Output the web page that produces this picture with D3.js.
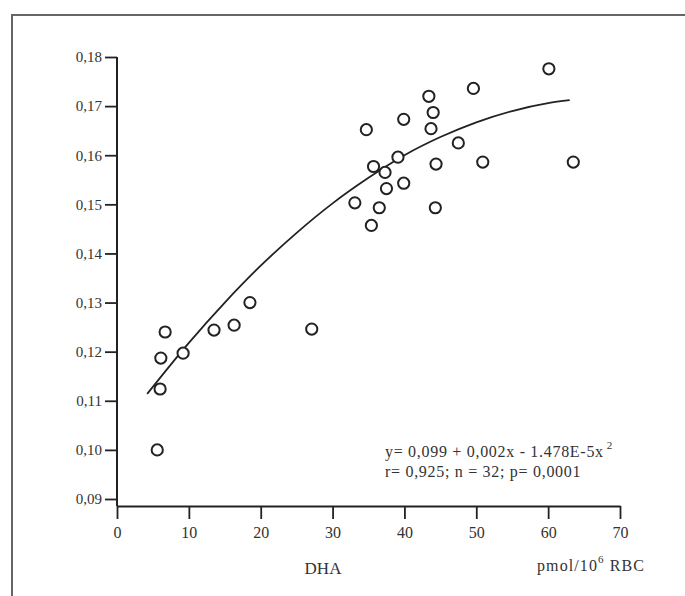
<!DOCTYPE html>
<html>
<head>
<meta charset="utf-8">
<script src="https://cdn.jsdelivr.net/npm/d3@7"></script>
<style>
  body { margin: 0; background: #fff; }
  svg { display: block; font-family: "Liberation Serif", "DejaVu Serif", serif; }
</style>
</head>
<body>
<svg id="chart" width="685" height="596"></svg>
<script>
// DHA (pmol/10^6 RBC) vs. ratio
const dhaX = [5.6, 6.0, 6.1, 6.7, 9.2, 13.5, 16.3, 18.5, 27.1,
  33.1, 34.7, 35.4, 35.7, 36.5, 37.3, 37.5, 39.1, 39.9, 39.9,
  43.4, 43.7, 44.0, 44.3, 44.4, 47.5, 49.6, 50.9, 60.1, 63.5];
const ratioY = [0.100, 0.1124, 0.1187, 0.124, 0.1197, 0.1244, 0.1254, 0.130, 0.1246,
  0.1503, 0.1652, 0.1457, 0.1577, 0.1493, 0.1565, 0.1532, 0.1596, 0.1673, 0.1543,
  0.172, 0.1654, 0.1687, 0.1493, 0.1582, 0.1625, 0.1736, 0.1586, 0.1776, 0.1586];

// fitted curve
const curveX = [4.2, 10, 15, 20, 25, 30, 35, 40, 45, 50, 55, 60, 63];
const curveY = [0.1114, 0.1218, 0.130, 0.1375, 0.1442, 0.1502, 0.1554, 0.160, 0.1637, 0.1667, 0.169, 0.1706, 0.1712];

const xTicks = [0, 10, 20, 30, 40, 50, 60, 70];
const yTicks = [0.09, 0.10, 0.11, 0.12, 0.13, 0.14, 0.15, 0.16, 0.17, 0.18];

const svg = d3.select("#chart");
const serif = '"Liberation Serif", "DejaVu Serif", serif';
const ink = "#222";
const textInk = "#333";

// scanned page frame
svg.append("path")
  .attr("d", "M12,596 V15 H685")
  .attr("fill", "none")
  .attr("stroke", "#666")
  .attr("stroke-width", 2);

// plot area
const plotLeft = 117, plotRight = 620, plotTop = 57, plotBottom = 499, axisY = 506;

const x = d3.scaleLinear().domain([0, 70]).range([plotLeft, plotRight]);
const y = d3.scaleLinear().domain([0.09, 0.18]).range([plotBottom, plotTop]);

// y axis
const yAxis = svg.append("g")
  .attr("transform", `translate(${plotLeft},0)`)
  .call(d3.axisLeft(y).tickValues(yTicks).tickSize(12).tickSizeOuter(0)
    .tickFormat(d => d3.format(".2f")(d).replace(".", ",")))
  .attr("font-family", serif)
  .attr("font-size", 15);
yAxis.select(".domain").remove();
yAxis.selectAll("line").attr("stroke", ink).attr("stroke-width", 1.8);
yAxis.selectAll("text")
  .attr("fill", textInk)
  .attr("x", -15);

svg.append("line")
  .attr("x1", plotLeft).attr("x2", plotLeft)
  .attr("y1", y(0.18)).attr("y2", axisY)
  .attr("stroke", ink).attr("stroke-width", 2);

// x axis
const xAxis = svg.append("g")
  .attr("transform", `translate(0,${axisY})`)
  .call(d3.axisBottom(x).tickValues(xTicks).tickSize(13).tickSizeOuter(0))
  .attr("font-family", serif)
  .attr("font-size", 16);
xAxis.select(".domain").attr("stroke", ink).attr("stroke-width", 2);
xAxis.selectAll("line").attr("stroke", ink).attr("stroke-width", 1.8);
xAxis.selectAll("text")
  .attr("fill", textInk)
  .attr("y", 21);

// axis titles
svg.append("text")
  .attr("x", 323).attr("y", 574)
  .attr("text-anchor", "middle")
  .attr("font-size", 17)
  .attr("fill", textInk)
  .text("DHA");

const unit = svg.append("text")
  .attr("x", 537).attr("y", 571)
  .attr("font-size", 16)
  .attr("letter-spacing", 1.1)
  .attr("fill", textInk);
unit.append("tspan").text("pmol/10");
unit.append("tspan").attr("font-size", 11).attr("dy", -8).text("6");
unit.append("tspan").attr("dy", 8).text(" RBC");

// regression curve
const curvePts = curveX.map((d, i) => [d, curveY[i]]);
svg.append("path")
  .datum(curvePts)
  .attr("fill", "none")
  .attr("stroke", ink)
  .attr("stroke-width", 1.8)
  .attr("d", d3.line().x(d => x(d[0])).y(d => y(d[1])).curve(d3.curveMonotoneX));

// data points
svg.selectAll(".dot")
  .data(dhaX.map((d, i) => [d, ratioY[i]]))
  .enter()
  .append("circle")
  .attr("class", "dot")
  .attr("cx", d => x(d[0]))
  .attr("cy", d => y(d[1]))
  .attr("r", 5.6)
  .attr("fill", "#fff")
  .attr("stroke", ink)
  .attr("stroke-width", 2);

// equation
const eq = svg.append("text")
  .attr("x", 385).attr("y", 457)
  .attr("font-size", 16)
  .attr("letter-spacing", 0.7)
  .attr("fill", textInk);
eq.append("tspan").text("y= 0,099 + 0,002x - 1.478E-5x");
eq.append("tspan").attr("font-size", 11).attr("dy", -8).attr("dx", 3).text("2");

svg.append("text")
  .attr("x", 385).attr("y", 477)
  .attr("font-size", 16)
  .attr("letter-spacing", 0.7)
  .attr("fill", textInk)
  .text("r= 0,925; n = 32; p= 0,0001");
</script>
</body>
</html>
